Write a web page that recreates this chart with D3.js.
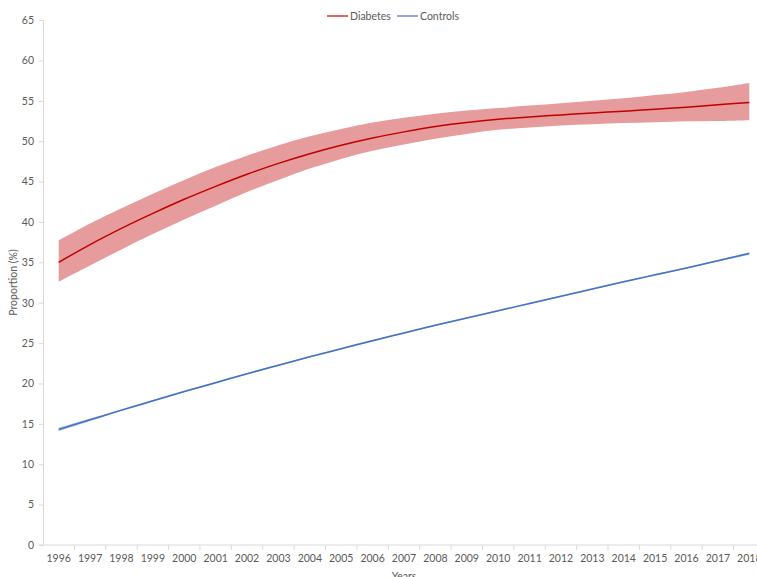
<!DOCTYPE html>
<html>
<head>
<meta charset="utf-8">
<script src="https://cdn.jsdelivr.net/npm/d3@7"></script>
<style>
  body { margin: 0; background: #fff; }
  svg { display: block; font-family: Lato, "Open Sans", sans-serif; }
</style>
</head>
<body>
<div id="chart"></div>
<script>
// years on the x axis
var years = ["1996","1997","1998","1999","2000","2001","2002","2003","2004","2005","2006","2007",
             "2008","2009","2010","2011","2012","2013","2014","2015","2016","2017","2018"];

// diabetes estimate with its confidence band
var diabetes = [35.0,37.2,39.2,41.05,42.8,44.4,45.9,47.25,48.45,49.5,50.4,51.15,51.8,52.3,52.7,53.0,53.25,53.5,53.7,53.95,54.2,54.5,54.8];
var diabetesUpper = [37.7,39.8,41.7,43.5,45.2,46.8,48.2,49.5,50.6,51.5,52.3,52.9,53.4,53.8,54.1,54.4,54.7,55.0,55.3,55.7,56.1,56.6,57.2];
var diabetesLower = [32.6,34.6,36.6,38.5,40.3,42.0,43.7,45.2,46.6,47.8,48.8,49.6,50.3,50.9,51.4,51.7,51.95,52.1,52.25,52.35,52.45,52.5,52.6];

// controls estimate with its (very narrow) band
var controls = [14.3,15.5,16.7,17.85,19.0,20.1,21.2,22.25,23.3,24.3,25.3,26.25,27.2,28.1,29.0,29.9,30.8,31.7,32.6,33.45,34.3,35.2,36.1];
var controlsUpper = [14.5,15.65,16.82,17.96,19.1,20.2,21.3,22.35,23.4,24.4,25.4,26.35,27.3,28.2,29.1,30.0,30.9,31.8,32.7,33.55,34.4,35.3,36.25];
var controlsLower = [14.1,15.35,16.58,17.74,18.9,20.0,21.1,22.15,23.2,24.2,25.2,26.15,27.1,28.0,28.9,29.8,30.7,31.6,32.5,33.35,34.2,35.1,35.95];

var yTicks = [0,5,10,15,20,25,30,35,40,45,50,55,60,65];

var w = 757, h = 577;
var mLeft = 43, mRight = 765, mTop = 20, mBottom = 545;
var textColor = "#595959";
var axisColor = "#d9d9d9";
var fontSize = "10.5px";

var svg = d3.select("#chart").append("svg")
    .attr("width", w)
    .attr("height", h);

var x = d3.scaleBand().domain(years).range([mLeft, mRight]);
var y = d3.scaleLinear().domain([0, 65]).range([mBottom, mTop]);

function cx(i) { return x(years[i]) + x.bandwidth() / 2; }

// confidence bands
function band(upper, lower) {
    return d3.area()
        .x(function(d, i) { return cx(i); })
        .y0(function(d, i) { return y(lower[i]); })
        .y1(function(d, i) { return y(upper[i]); })
        .curve(d3.curveCatmullRom)(years);
}

svg.append("path")
    .attr("d", band(diabetesUpper, diabetesLower))
    .attr("fill", "#e69c9c");

svg.append("path")
    .attr("d", band(controlsUpper, controlsLower))
    .attr("fill", "#a9bfe6");

// main lines
var line = d3.line()
    .x(function(d, i) { return cx(i); })
    .y(function(d) { return y(d); })
    .curve(d3.curveCatmullRom);

svg.append("path")
    .attr("d", line(diabetes))
    .attr("fill", "none")
    .attr("stroke", "#c00000")
    .attr("stroke-width", 1.5);

svg.append("path")
    .attr("d", line(controls))
    .attr("fill", "none")
    .attr("stroke", "#4472c4")
    .attr("stroke-width", 1.5);

// y axis
var yAxis = svg.append("g")
    .attr("transform", "translate(" + mLeft + ",0)")
    .call(d3.axisLeft(y).tickValues(yTicks).tickSize(4).tickPadding(5));
yAxis.select(".domain").attr("stroke", axisColor);
yAxis.selectAll(".tick line").attr("stroke", axisColor);
yAxis.selectAll("text")
    .attr("fill", textColor)
    .style("font-family", "Lato, sans-serif")
    .style("font-size", fontSize);

// x axis: ticks sit between categories
var xAxis = svg.append("g")
    .attr("transform", "translate(0," + mBottom + ")");
xAxis.append("line")
    .attr("x1", mLeft - 4).attr("x2", mRight)
    .attr("stroke", axisColor);
xAxis.selectAll("line.tk")
    .data(years)
    .enter().append("line")
    .attr("class", "tk")
    .attr("x1", function(d) { return x(d) + x.bandwidth(); })
    .attr("x2", function(d) { return x(d) + x.bandwidth(); })
    .attr("y1", 0).attr("y2", 5)
    .attr("stroke", axisColor);
xAxis.selectAll("text")
    .data(years)
    .enter().append("text")
    .attr("x", function(d) { return x(d) + x.bandwidth() / 2; })
    .attr("y", 17)
    .attr("text-anchor", "middle")
    .attr("fill", textColor)
    .style("font-size", fontSize)
    .text(function(d) { return d; });

// axis titles
svg.append("text")
    .attr("transform", "translate(17," + ((mTop + mBottom) / 2) + ") rotate(-90)")
    .attr("text-anchor", "middle")
    .attr("fill", textColor)
    .style("font-size", fontSize)
    .text("Proportion (%)");

svg.append("text")
    .attr("x", 404)
    .attr("y", 580)
    .attr("text-anchor", "middle")
    .attr("fill", textColor)
    .style("font-size", fontSize)
    .text("Years");

// legend
var legend = [
    { name: "Diabetes", color: "#e06666", x: 327 },
    { name: "Controls", color: "#8faadc", x: 397 }
];
var lg = svg.selectAll("g.legend")
    .data(legend)
    .enter().append("g")
    .attr("class", "legend")
    .attr("transform", function(d) { return "translate(" + d.x + ",16)"; });
lg.append("line")
    .attr("x1", 0).attr("x2", 21)
    .attr("stroke", function(d) { return d.color; })
    .attr("stroke-width", 2);
lg.append("text")
    .attr("x", 23)
    .attr("y", 4)
    .attr("fill", textColor)
    .style("font-size", fontSize)
    .text(function(d) { return d.name; });
</script>
</body>
</html>
